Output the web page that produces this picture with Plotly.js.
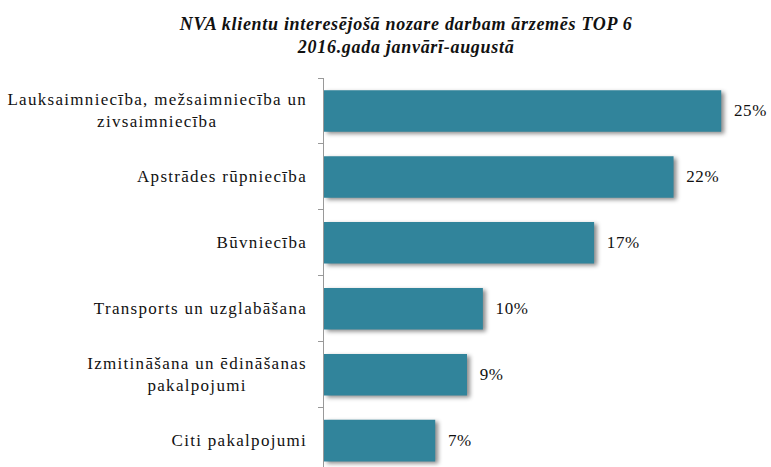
<!DOCTYPE html>
<html>
<head>
<meta charset="utf-8">
<script src="https://cdn.plot.ly/plotly-3.0.1.min.js"></script>
<style>
html,body{margin:0;padding:0;background:#fff;}
#chart{width:771px;height:467px;}
.barlayer .point path{filter:drop-shadow(3px 2px 2px rgba(0,0,0,0.45));}
.annotation text{letter-spacing:1.3px;}
.annotation[data-index="6"] text{letter-spacing:0.7px;}
.bartext{letter-spacing:0.6px;}
</style>
</head>
<body>
<div id="chart"></div>
<script>
const categories = [
  "Lauksaimniecība, mežsaimniecība un<br>zivsaimniecība",
  "Apstrādes rūpniecība",
  "Būvniecība",
  "Transports un uzglabāšana",
  "Izmitināšana un ēdināšanas<br>pakalpojumi",
  "Citi pakalpojumi"
];
const values = [25, 22, 17, 10, 9, 7];
const valueLabels = values.map(v => v + "%");
const titleText = "<b><i>NVA klientu interesējošā nozare darbam ārzemēs TOP 6<br>2016.gada janvārī-augustā</i></b>";

const font = "Liberation Serif, Times New Roman, serif";

const trace = {
  type: "bar",
  orientation: "h",
  x: values,
  y: categories,
  marker: {color: "#31849b"},
  text: valueLabels,
  textposition: "outside",
  texttemplate: "  %{text}",
  textfont: {family: font, size: 17, color: "#111"},
  cliponaxis: false,
  hoverinfo: "none"
};

const annotations = categories.map(c => ({
  xref: "paper", yref: "y",
  x: 0, y: c,
  xshift: -17,
  xanchor: "right", yanchor: "middle",
  align: "center",
  text: c,
  showarrow: false,
  font: {family: font, size: 17, color: "#111"}
}));
annotations.push({
  xref: "paper", yref: "paper",
  x: 0.189, y: 1.11,
  xanchor: "center", yanchor: "middle",
  align: "center",
  text: titleText,
  showarrow: false,
  font: {family: font, size: 18, color: "#111"}
});

const layout = {
  width: 771, height: 467,
  margin: {l: 324, r: 18, t: 78, b: 0},
  paper_bgcolor: "#fff", plot_bgcolor: "#fff",
  bargap: 0.37,
  showlegend: false,
  font: {family: font},
  xaxis: {
    range: [0, 27],
    visible: false,
    showgrid: false, zeroline: false
  },
  yaxis: {
    type: "category",
    range: [5.4, -0.5],
    showticklabels: false,
    tickson: "boundaries",
    ticks: "outside", ticklen: 5, tickcolor: "#999",
    showline: true, linecolor: "#999", linewidth: 1,
    showgrid: false, zeroline: false
  },
  annotations: annotations
};

Plotly.newPlot("chart", [trace], layout, {displayModeBar: false, staticPlot: true}).then(gd => {
  // letter-spacing is not included in Plotly's text measurement: realign label right edges
  const gdRect = gd.getBoundingClientRect();
  const targetRight = gd._fullLayout._size.l - 17;
  for (let i = 0; i < categories.length; i++) {
    const g = gd.querySelector('.annotation[data-index="' + i + '"]');
    if (!g) continue;
    const t = g.querySelector("text");
    const r = t.getBoundingClientRect();
    const dx = targetRight - (r.right - gdRect.left);
    g.setAttribute("transform", "translate(" + dx.toFixed(1) + ",0)");
  }
});
</script>
</body>
</html>
